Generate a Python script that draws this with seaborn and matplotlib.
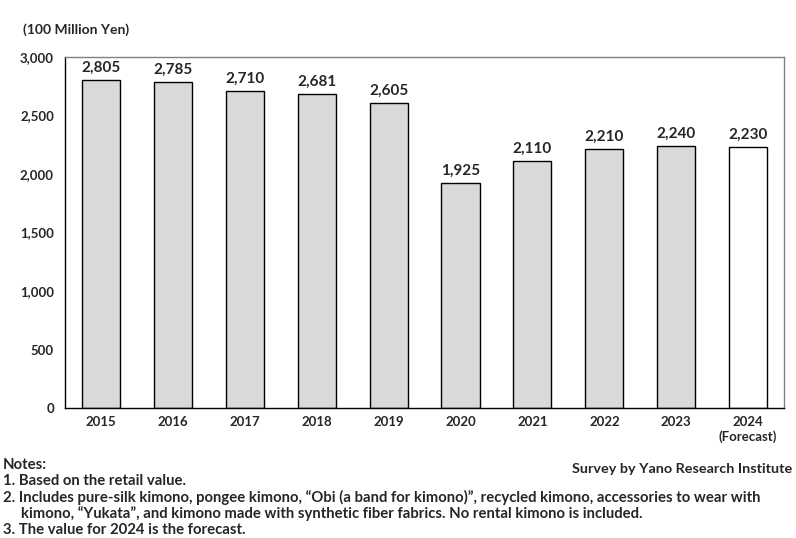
import matplotlib
matplotlib.use("Agg")
import matplotlib.pyplot as plt
import seaborn as sns
import pandas as pd

years = ["2015", "2016", "2017", "2018", "2019", "2020", "2021", "2022", "2023", "2024\n(Forecast)"]
values = [2805, 2785, 2710, 2681, 2605, 1925, 2110, 2210, 2240, 2230]
bar_colors = ["#d9d9d9"] * 9 + ["#ffffff"]
y_ticks = [0, 500, 1000, 1500, 2000, 2500, 3000]

sns.set_theme(style="white")
plt.rcParams["font.family"] = ["Lato", "DejaVu Sans"]
plt.rcParams["font.weight"] = "bold"

df = pd.DataFrame({"year": years, "value": values})

fig = plt.figure(figsize=(7.96, 5.38), dpi=100)
ax = fig.add_axes([0.0817, 0.2416, 0.9033, 0.6524])

sns.barplot(data=df, x="year", y="value", hue="year", palette=bar_colors,
            legend=False, width=0.53, edgecolor="black", linewidth=1.0, ax=ax)

ax.set_ylim(0, 3000)
ax.set_yticks(y_ticks)
ax.set_yticklabels([f"{v:,}" for v in y_ticks], fontsize=9.5, fontweight="bold")
ax.set_xlim(-0.5, len(years) - 0.5)
ax.set_xticks(range(len(years)))
ax.set_xticklabels(years, fontsize=9.5, fontweight="bold")
ax.set_xlabel("")
ax.set_ylabel("")

for i, v in enumerate(values):
    ax.text(i, v + 45, f"{v:,}", ha="center", va="bottom", fontsize=11, fontweight="bold")

for s in ["left", "bottom"]:
    ax.spines[s].set_color("black")
    ax.spines[s].set_linewidth(1.0)
for s in ["top", "right"]:
    ax.spines[s].set_color("#808080")
    ax.spines[s].set_linewidth(1.0)

ax.tick_params(axis="y", direction="out", length=4, width=1, color="black", pad=4)
ax.tick_params(axis="x", length=0, pad=6)
ax.set_xticks([i + 0.5 for i in range(len(years) - 1)], minor=True)
ax.tick_params(axis="x", which="minor", direction="in", length=4, width=1, color="black")

fig.text(0.029, 0.944, "(100 Million Yen)", fontsize=10, fontweight="bold", ha="left", va="center")

nfs = 10.7
fig.text(0.004, 0.136, "Notes:", fontsize=nfs, fontweight="bold", ha="left", va="center")
fig.text(0.995, 0.128, "Survey by Yano Research Institute", fontsize=10.4, fontweight="bold", ha="right", va="center")
fig.text(0.004, 0.106, "1. Based on the retail value.", fontsize=nfs, fontweight="bold", ha="left", va="center")
fig.text(0.004, 0.076, "2. Includes pure-silk kimono, pongee kimono, \u201cObi (a band for kimono)\u201d, recycled kimono, accessories to wear with",
         fontsize=nfs, fontweight="bold", ha="left", va="center")
fig.text(0.027, 0.046, "kimono, \u201cYukata\u201d, and kimono made with synthetic fiber fabrics. No rental kimono is included.",
         fontsize=nfs, fontweight="bold", ha="left", va="center")
fig.text(0.004, 0.015, "3. The value for 2024 is the forecast.", fontsize=nfs, fontweight="bold", ha="left", va="center")

fig.savefig("out.png", dpi=100)
